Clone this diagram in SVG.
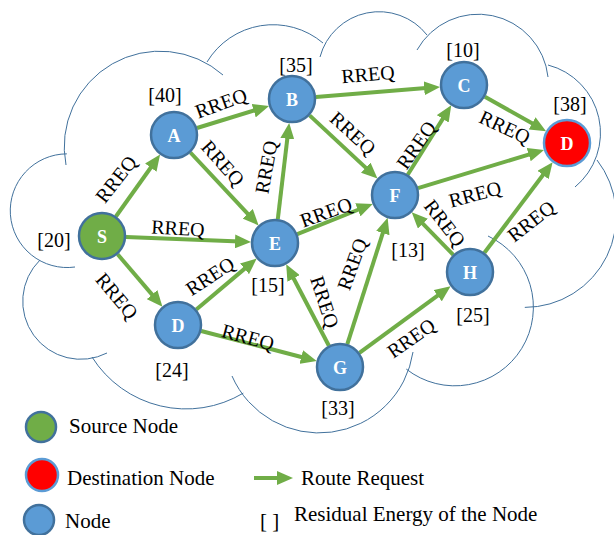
<svg xmlns="http://www.w3.org/2000/svg" width="614" height="535" viewBox="0 0 614 535">
<style>
.cloud{fill:none;stroke:#41719C;stroke-width:1}
.edge{stroke:#70AD47;stroke-width:4;fill:none;marker-end:url(#ah)}
.nd{fill:#5B9BD5;stroke:#41719C;stroke-width:2.5}
.src{fill:#70AD47;stroke:#41719C;stroke-width:2.5}
.dst{fill:#FF0000;stroke:#5B9BD5;stroke-width:2.5}
.nl{font-family:"Liberation Serif","Times New Roman",serif;font-weight:bold;font-size:18px;fill:#FFFFFF;text-anchor:middle}
.lbl{font-family:"Liberation Serif","Times New Roman",serif;font-size:20px;fill:#000000;text-anchor:middle}
.en{font-family:"Liberation Serif","Times New Roman",serif;font-size:20px;fill:#000000;text-anchor:middle}
.lg{font-family:"Liberation Serif","Times New Roman",serif;font-size:21px;fill:#000000}
</style>
<defs>
<marker id="ah" markerUnits="userSpaceOnUse" markerWidth="16" markerHeight="14" refX="5" refY="7" orient="auto">
<path d="M0,0 L16,7 L0,14 Z" fill="#70AD47"/>
</marker>
</defs>
<g id="cloud">
<path class="cloud" d="M66.85,153.85 A56.85,56.85 0 1 0 75,267 M40,260 A58,58 0 0 0 107,353 M92,357 A111.2,111.2 0 0 0 243.3,393.1 M232,376 A95,95 0 0 0 413,352 M406.3,369.1 A78.6,78.6 0 1 0 488,236 M524.8,307.4 A91.4,91.4 0 0 0 597,160 M575,187 A70.2,70.2 0 0 0 548,65 M548,77 A70.2,70.2 0 0 0 417,50 M427,35 A61.1,61.1 0 0 0 320,57 M323,43 A77.2,77.2 0 0 0 207,62 M223,75 A95.6,95.6 0 0 0 66,165"/>
</g>
<g id="connectors">
<line class="edge" x1="115.9" y1="216.5" x2="153.7" y2="163.5"/>
<line class="edge" x1="197.0" y1="128.0" x2="258.5" y2="109.2"/>
<line class="edge" x1="190.4" y1="152.5" x2="251.1" y2="217.4"/>
<line class="edge" x1="277.8" y1="219.2" x2="287.9" y2="133.8"/>
<line class="edge" x1="315.9" y1="97.1" x2="429.1" y2="87.8"/>
<line class="edge" x1="309.6" y1="115.4" x2="369.4" y2="171.1"/>
<line class="edge" x1="484.9" y1="96.8" x2="536.5" y2="125.8"/>
<line class="edge" x1="407.7" y1="174.7" x2="445.4" y2="114.6"/>
<line class="edge" x1="418.0" y1="188.1" x2="533.5" y2="153.1"/>
<line class="edge" x1="126.0" y1="237.0" x2="240.0" y2="241.6"/>
<line class="edge" x1="117.6" y1="254.3" x2="155.3" y2="298.4"/>
<line class="edge" x1="196.3" y1="309.5" x2="248.3" y2="265.6"/>
<line class="edge" x1="297.3" y1="234.1" x2="362.5" y2="208.0"/>
<line class="edge" x1="328.9" y1="345.7" x2="291.3" y2="274.0"/>
<line class="edge" x1="347.3" y1="344.1" x2="384.3" y2="228.3"/>
<line class="edge" x1="359.4" y1="352.8" x2="441.7" y2="292.7"/>
<line class="edge" x1="453.3" y1="254.8" x2="419.4" y2="220.1"/>
<line class="edge" x1="484.4" y1="252.8" x2="546.0" y2="171.0"/>
<line class="edge" x1="201.2" y1="331.0" x2="306.1" y2="358.2"/>
<g id="edge-labels">
<text class="lbl" dy="0.35em" transform="translate(116,179) rotate(-52)">RREQ</text>
<text class="lbl" dy="0.35em" transform="translate(221,103) rotate(-20)">RREQ</text>
<text class="lbl" dy="0.35em" transform="translate(223,163) rotate(48)">RREQ</text>
<text class="lbl" dy="0.35em" transform="translate(266,167) rotate(-80)">RREQ</text>
<text class="lbl" dy="0.35em" transform="translate(368,74) rotate(-5)">RREQ</text>
<text class="lbl" dy="0.35em" transform="translate(353,133) rotate(42)">RREQ</text>
<text class="lbl" dy="0.35em" transform="translate(505,127) rotate(25)">RREQ</text>
<text class="lbl" dy="0.35em" transform="translate(416,145) rotate(-55)">RREQ</text>
<text class="lbl" dy="0.35em" transform="translate(475,194) rotate(-15)">RREQ</text>
<text class="lbl" dy="0.35em" transform="translate(178,228) rotate(3)">RREQ</text>
<text class="lbl" dy="0.35em" transform="translate(117,296) rotate(50)">RREQ</text>
<text class="lbl" dy="0.35em" transform="translate(210,276) rotate(-33)">RREQ</text>
<text class="lbl" dy="0.35em" transform="translate(326,212) rotate(-20)">RREQ</text>
<text class="lbl" dy="0.35em" transform="translate(325,302) rotate(72)">RREQ</text>
<text class="lbl" dy="0.35em" transform="translate(352,264) rotate(-70)">RREQ</text>
<text class="lbl" dy="0.35em" transform="translate(411,338) rotate(-35)">RREQ</text>
<text class="lbl" dy="0.35em" transform="translate(445,223) rotate(52)">RREQ</text>
<text class="lbl" dy="0.35em" transform="translate(531,221) rotate(-38)">RREQ</text>
<text class="lbl" dy="0.35em" transform="translate(248,337) rotate(15)">RREQ</text>
</g>
</g>
<g id="node-S"><circle class="src" cx="102" cy="236" r="23"/><text class="nl" x="102" y="242.5">S</text><text class="en" x="54" y="247">[20]</text></g>
<g id="node-A"><circle class="nd" cx="174" cy="135" r="23"/><text class="nl" x="174" y="141.5">A</text><text class="en" x="165" y="102">[40]</text></g>
<g id="node-B"><circle class="nd" cx="292" cy="99" r="23"/><text class="nl" x="292" y="105.5">B</text><text class="en" x="296" y="72">[35]</text></g>
<g id="node-C"><circle class="nd" cx="464" cy="85" r="23"/><text class="nl" x="464" y="91.5">C</text><text class="en" x="463" y="57">[10]</text></g>
<g id="node-Dest"><circle class="dst" cx="567" cy="143" r="23"/><text class="nl" x="567" y="149.5">D</text><text class="en" x="570" y="111">[38]</text></g>
<g id="node-E"><circle class="nd" cx="275" cy="243" r="23"/><text class="nl" x="275" y="249.5">E</text><text class="en" x="268" y="292">[15]</text></g>
<g id="node-F"><circle class="nd" cx="395" cy="195" r="23"/><text class="nl" x="395" y="201.5">F</text><text class="en" x="408" y="257">[13]</text></g>
<g id="node-D"><circle class="nd" cx="178" cy="325" r="23"/><text class="nl" x="178" y="331.5">D</text><text class="en" x="172" y="377">[24]</text></g>
<g id="node-G"><circle class="nd" cx="340" cy="367" r="23"/><text class="nl" x="340" y="373.5">G</text><text class="en" x="338" y="415">[33]</text></g>
<g id="node-H"><circle class="nd" cx="470" cy="272" r="23"/><text class="nl" x="470" y="278.5">H</text><text class="en" x="473" y="322">[25]</text></g>
<g id="legend">
<circle class="src" cx="41" cy="427" r="15"/>
<text class="lg" x="69" y="433">Source Node</text>
<circle class="dst" cx="42" cy="475" r="16"/>
<text class="lg" x="67" y="485">Destination Node</text>
<circle class="nd" cx="39" cy="520" r="15"/>
<text class="lg" x="65" y="528">Node</text>
<line class="edge" x1="254" y1="478" x2="282" y2="478"/>
<text class="lg" x="301" y="485">Route Request</text>
<text class="lg" x="260" y="528">[ ]</text>
<text class="lg" x="294" y="521">Residual Energy of the Node</text>
</g>
</svg>
